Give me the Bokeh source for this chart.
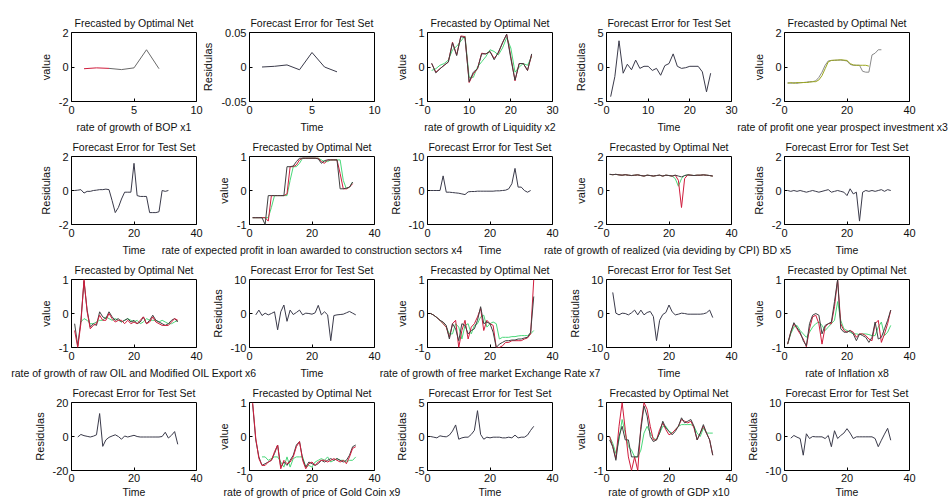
from bokeh.plotting import figure
from bokeh.layouts import row, column
from bokeh.models import FixedTicker, Range1d, CustomJSTickFormatter
from bokeh.embed import file_html
from bokeh.resources import INLINE

FONT = "Liberation Sans"

# ---------------- data ----------------
# x1 : rate of growth of BOP
x1_t_fc = [1, 2, 3]
x1_fc = [-0.1, -0.05, -0.08]
x1_t_act = [3, 4, 5, 6, 7]
x1_act = [-0.08, -0.15, -0.05, 1.0, -0.1]
x1_t_err = [1, 2, 3, 4, 5, 6, 7]
x1_err = [0.0, 0.001, 0.003, -0.004, 0.021, 0.0, -0.007]

# x2 : rate of growth of Liquidity
x2_t = list(range(1, 26))
x2_act = [0.11, -0.17, -0.05, 0.05, 0.14, 0.7, 0.33, 0.88, 0.85, -0.43, -0.15, -0.05, 0.38,
          0.38, 0.45, 0.21, 0.43, 0.7, 0.95, 0.24, -0.38, 0.1, 0.1, -0.1, 0.38]
x2_fc = [0.1, -0.15, -0.05, 0.05, 0.15, 0.72, 0.35, 0.9, 0.88, -0.45, -0.2, -0.05, 0.4,
         0.38, 0.45, 0.25, 0.4, 0.7, 0.95, 0.3, -0.4, 0.1, 0.1, -0.1, 0.35]
x2_gr = [-0.1, -0.05, 0.05, 0.1, 0.2, 0.5, 0.6, 0.75, 0.9, -0.3, -0.3, 0.0, 0.15,
         0.3, 0.5, 0.45, 0.35, 0.55, 0.85, 0.55, -0.15, 0.0, 0.1, 0.05, 0.3]
x2_err = [-4.3, -1.4, 3.8, -0.9, 0.4, -0.4, 1.0, -0.2, 0.1, 0.1, -0.5, -0.2, -1.2,
          0.2, 0.5, 1.9, 0.1, -0.2, -0.1, 0.1, 0.1, 0.1, -0.7, -3.6, -0.9]

# x3 : rate of profit one year prospect investment
x3_t = list(range(1, 32))
x3_act = [-0.9, -0.95, -0.9, -0.95, -0.9, -0.9, -0.88, -0.85, -0.85, -0.8, -0.6, -0.3, 0.1,
          0.35, 0.38, 0.38, 0.4, 0.4, 0.38, 0.35, 0.15, 0.1, 0.1, 0.1, -0.25, -0.3, -0.3,
          0.7, 0.8, 1.0, 1.0]
x3_t_ol = list(range(1, 28))
x3_ol = [-0.95, -0.9, -0.95, -0.9, -0.92, -0.9, -0.9, -0.88, -0.85, -0.85, -0.75, -0.5,
         -0.1, 0.3, 0.38, 0.4, 0.4, 0.42, 0.4, 0.38, 0.2, 0.12, 0.1, 0.1, 0.1, 0.1, 0.05]
x3_err = [0.0, 0.02, 0.05, -0.15, -0.05, -0.05, 0.0, 0.02, 0.05, 0.05, 0.08, 0.05, -0.6,
          -1.3, -1.0, -0.5, -0.1, -0.1, -0.1, 1.6, -0.3, -0.35, -0.35, -0.35, -1.3, -1.3,
          -1.3, -1.25, 0.0, -0.05, 0.0]

# x4 : rate of expected profit in loan awarded to construction sectors
x4_t = list(range(1, 34))
x4_act = [-0.8, -0.8, -0.8, -0.8, -1.0, -0.15, -0.15, -0.15, -0.15, -0.15, -0.15, 0.7, 0.7,
          0.72, 0.85, 0.95, 0.95, 0.95, 0.95, 0.95, 0.95, 0.93, 0.8, 0.88, 0.9, 0.9, 0.9,
          0.9, 0.05, 0.05, 0.07, 0.1, 0.25]
x4_fc = [-0.8, -0.8, -0.8, -0.8, -0.8, -0.9, -0.15, -0.15, -0.15, -0.15, -0.15, -0.1, 0.7,
         0.7, 0.75, 0.9, 0.95, 0.95, 0.95, 0.95, 0.95, 0.95, 0.85, 0.8, 0.9, 0.9, 0.9, 0.9,
         0.5, 0.05, 0.05, 0.1, 0.2]
x4_gr = [-0.8, -0.8, -0.8, -0.8, -0.8, -0.8, -0.5, -0.15, -0.15, -0.15, -0.15, -0.15, 0.3,
         0.7, 0.7, 0.8, 0.95, 0.95, 0.95, 0.95, 0.95, 0.95, 0.9, 0.85, 0.85, 0.9, 0.9, 0.9,
         0.9, 0.3, 0.05, 0.1, 0.25]
x4_err = [0.0, 0.0, 0.0, 0.0, 4.3, -0.5, -0.5, -0.6, -0.7, -0.8, -1.0, -1.2, -0.4, -0.3,
          -0.3, -0.2, -0.2, -0.2, -0.2, -0.2, -0.2, -0.1, -0.1, 0.0, 0.1, 0.5, 2.0, 6.5,
          1.0, 1.0, 0.0, -0.5, 0.0]

# x5 : rate of growth of realized (via deviding by CPI) BD
x5_t = list(range(1, 35))
x5_act = [0.95, 0.93, 0.95, 0.92, 0.9, 0.93, 0.9, 0.88, 0.9, 0.92, 0.88, 0.85, 0.9, 0.88,
          0.85, 0.88, 0.9, 0.85, 0.9, 0.88, 0.85, 0.9, 0.85, 0.8, 0.88, 0.92, 0.9, 0.88,
          0.9, 0.9, 0.92, 0.9, 0.88, 0.85]
x5_fc = [0.95, 0.93, 0.95, 0.92, 0.9, 0.93, 0.9, 0.88, 0.9, 0.92, 0.88, 0.85, 0.9, 0.88,
         0.85, 0.88, 0.9, 0.85, 0.9, 0.88, 0.85, 0.9, 0.6, -1.0, 0.7, 0.92, 0.9, 0.88,
         0.9, 0.9, 0.92, 0.9, 0.88, 0.85]
x5_gr = [0.95, 0.93, 0.95, 0.92, 0.9, 0.93, 0.9, 0.88, 0.9, 0.92, 0.88, 0.85, 0.9, 0.88,
         0.85, 0.88, 0.9, 0.85, 0.9, 0.88, 0.85, 0.7, 0.25, 0.7, 0.88, 0.92, 0.9, 0.88,
         0.9, 0.9, 0.92, 0.9, 0.88, 0.85]
x5_err = [0.0, -0.05, 0.0, -0.05, 0.0, -0.05, -0.1, -0.05, 0.0, -0.05, -0.1, -0.05, 0.0,
          0.05, -0.1, -0.05, 0.0, -0.05, -0.1, -0.3, 0.1, -0.2, -0.1, -1.8, -0.1, 0.0,
          -0.05, 0.0, -0.05, 0.0, 0.05, -0.05, 0.05, 0.0]

# x6 : rate of growth of raw OIL and Modified OIL Export
x6_t = list(range(1, 35))
x6_act = [-0.3, -0.95, -0.2, 0.95, 0.1, -0.4, -0.3, -0.35, 0.05, -0.1, -0.15, 0.05, -0.1,
          -0.2, -0.15, -0.25, -0.2, -0.15, -0.25, -0.2, -0.3, -0.25, -0.1, -0.3, -0.2,
          -0.05, -0.2, -0.25, -0.3, -0.35, -0.3, -0.2, -0.15, -0.25]
x6_fc = [-0.5, -1.0, -0.3, 1.0, 0.05, -0.45, -0.35, -0.3, -0.05, -0.2, -0.2, 0.0, -0.15,
         -0.25, -0.2, -0.2, -0.3, -0.2, -0.3, -0.25, -0.3, -0.2, -0.1, -0.3, -0.25, -0.1,
         -0.25, -0.3, -0.35, -0.35, -0.35, -0.25, -0.15, -0.2]
x6_t_gr = list(range(3, 35))
x6_gr = [-0.25, -0.15, -0.2, -0.3, -0.3, -0.25, -0.2, -0.2, -0.1, -0.15, -0.2, -0.15, -0.2,
         -0.25, -0.2, -0.15, -0.2, -0.25, -0.2, -0.3, -0.25, -0.15, -0.2, -0.2, -0.2, -0.25,
         -0.2, -0.25, -0.3, -0.3, -0.25, -0.2]
x6_t_err = list(range(2, 35))
x6_err = [-0.4, 1.0, -0.6, 0.1, -0.4, 0.0, 0.5, -4.8, 0.5, 2.5, -2.3, 1.0, -0.3, 0.3, 1.0,
          -0.4, 0.1, 0.0, -0.2, 0.2, 2.4, -0.4, 0.5, -0.4, -8.0, -0.6, -0.4, -0.3, -0.2,
          0.2, 0.6, 0.1, -0.4]

# x7 : rate of growth of free market Exchange Rate
x7_t = list(range(1, 35))
x7_act = [0.0, -0.05, -0.12, -0.2, -0.25, -0.35, -0.75, -0.3, -0.45, -0.8, -0.3, -0.35,
          -0.6, -0.5, -0.45, -0.2, 0.2, -0.3, -0.25, -0.3, -0.55, -1.0, -0.9, -0.85, -0.8,
          -0.8, -0.78, -0.78, -0.75, -0.75, -0.72, -0.7, -0.55, 0.5]
x7_fc = [0.0, -0.05, -0.12, -0.2, -0.3, -0.4, -0.7, -0.3, -0.2, -1.0, -0.5, -0.2, -0.75,
         -0.4, -0.3, -0.1, 0.15, -0.5, -0.2, -0.3, -0.35, -1.0, -1.0, -0.95, -0.85, -0.85,
         -0.8, -0.8, -0.8, -0.8, -0.75, -0.72, -0.6, 1.0]
x7_gr = [0.0, -0.05, -0.12, -0.2, -0.3, -0.4, -0.6, -0.6, -0.3, -0.4, -0.75, -0.35, -0.3,
         -0.6, -0.35, -0.3, -0.1, -0.05, -0.4, -0.3, -0.25, -0.3, -0.75, -0.7, -0.7, -0.7,
         -0.68, -0.68, -0.66, -0.65, -0.65, -0.65, -0.6, -0.5]
x7_t_err = list(range(2, 35))
x7_err = [6.2, 0.1, -0.4, 0.1, 0.0, -0.4, 0.2, 1.0, -0.4, 1.0, -0.4, 0.3, 0.6, -0.9, -8.0,
          -2.0, -0.3, 0.3, 2.5, 0.5, -0.4, -0.2, 0.1, 0.0, -0.2, -0.2, -0.2, -0.2, -0.2,
          -0.1, 0.2, 1.0, -1.2]

# x8 : rate of Inflation
x8_t = list(range(1, 35))
x8_act = [-0.9, -0.55, -0.27, -0.42, -0.55, -0.8, -0.95, -0.3, -0.05, 0.0, -0.05, -0.6,
          -0.35, -0.3, -0.25, 0.35, 1.0, -0.45, -0.55, -0.55, -0.5, -0.6, -0.8, -0.6, -0.65,
          -0.7, -0.85, -0.7, -0.25, -0.75, -0.7, -0.45, -0.2, 0.1]
x8_fc = [-0.9, -0.55, -0.3, -0.45, -0.6, -0.75, -0.98, -0.45, -0.1, -0.05, -0.3, -0.9,
         -0.4, -0.3, -0.3, 0.2, 1.0, -0.3, -0.5, -0.55, -0.5, -0.55, -0.7, -0.6, -0.6,
         -0.65, -0.75, -0.8, -0.3, -0.2, -0.85, -0.6, -0.3, 0.1]
x8_gr = [-0.9, -0.6, -0.4, -0.35, -0.5, -0.6, -0.7, -0.55, -0.4, -0.3, -0.25, -0.35, -0.5,
         -0.4, -0.3, -0.2, 0.35, -0.2, -0.45, -0.5, -0.55, -0.6, -0.6, -0.62, -0.6, -0.6,
         -0.62, -0.65, -0.65, -0.4, -0.25, -0.65, -0.55, -0.35]
x8_t_err = list(range(2, 35))
x8_err = [-0.3, 1.2, 0.5, 0.1, -0.3, 0.2, 1.0, 13.5, -5.8, -2.0, -0.5, 0.3, 1.0, 0.0, -1.6,
          0.3, -0.3, 0.2, 0.7, 0.0, -0.3, -0.3, -0.3, -0.3, -0.3, -0.3, -0.3, 0.0, 2.5,
          -0.9, 0.7, 2.9, -4.6]

# x9 : rate of growth of price of Gold Coin
x9_t = list(range(1, 35))
x9_act = [0.95, -0.1, -0.6, -0.85, -0.8, -0.75, -0.7, -0.5, -0.25, -0.9, -0.75, -0.85, -0.7,
          -0.55, -0.25, -0.15, -0.65, -0.9, -0.75, -0.8, -0.85, -0.8, -0.7, -0.75, -0.7,
          -0.65, -0.7, -0.65, -0.7, -0.75, -0.7, -0.55, -0.3, -0.25]
x9_fc = [1.0, -0.05, -0.65, -0.85, -0.85, -0.75, -0.7, -0.45, -0.25, -0.95, -0.7, -0.8,
         -0.75, -0.6, -0.3, -0.15, -0.7, -0.95, -0.8, -0.75, -0.85, -0.75, -0.7, -0.7, -0.75,
         -0.7, -0.65, -0.7, -0.75, -0.7, -0.8, -0.6, -0.35, -0.3]
x9_t_gr = list(range(4, 35))
x9_gr = [-0.6, -0.6, -0.7, -0.65, -0.6, -0.6, -0.75, -0.9, -0.6, -0.9, -0.65, -0.6, -0.6,
         -0.6, -0.9, -0.85, -0.9, -0.75, -0.7, -0.65, -0.7, -0.6, -0.75, -0.7, -0.65, -0.7,
         -0.7, -0.75, -0.7, -0.7, -0.6]
x9_err = [0.0, -0.1, -0.2, 0.1, 0.0, -0.05, 0.2, 0.8, 1.7, -0.4, -0.2, -0.1, -0.1, 0.3, 0.9,
          3.8, 0.3, -0.4, -0.1, -0.2, -0.1, -0.1, -0.1, -0.2, -0.2, -0.1, -0.2, 0.2, -0.2,
          -0.1, -0.1, 0.2, 0.9, 1.5]

# x10 : rate of growth of GDP
x10_t = list(range(1, 35))
x10_act = [-0.1, -0.3, -0.7, 0.0, 0.3, -0.1, -0.1, -0.6, -0.6, -0.6, 0.2, 0.9, 0.6, 0.0,
           -0.15, -0.1, 0.1, 0.45, 0.25, 0.15, 0.05, 0.15, 0.3, 0.55, 0.4, 0.45, 0.5, 0.3,
           -0.1, 0.1, 0.35, 0.1, -0.1, -0.55]
x10_fc = [0.0, -0.3, -0.65, 0.3, 1.0, 0.2, -0.6, -1.0, -0.6, -1.0, 0.3, 1.0, 0.8, 0.3,
          -0.1, -0.1, 0.2, 0.4, 0.2, 0.05, 0.1, 0.2, 0.3, 0.5, 0.45, 0.4, 0.45, 0.25, -0.1,
          0.1, 0.3, 0.1, -0.1, -0.55]
x10_gr = [0.0, -0.2, -0.5, -0.1, 0.5, 0.1, -0.3, -0.4, -0.6, -0.6, -0.4, 0.1, 0.3, 0.1,
          -0.05, -0.1, 0.1, 0.3, 0.3, 0.15, 0.1, 0.2, 0.3, 0.35, 0.35, 0.35, 0.35, 0.3, 0.1,
          0.0, 0.25, 0.1, 0.1, 0.1]
x10_t_err = list(range(2, 35))
x10_err = [-0.5, 0.3, -0.2, -0.6, -5.5, 0.8, -0.6, 0.0, -0.1, -0.1, -0.1, -0.6, 0.3, -3.0,
           1.7, -0.6, 0.3, 1.0, 2.3, 1.0, -0.6, -0.1, -0.1, -0.1, -0.1, -0.1, -0.1, -0.6,
           -3.0, -1.1, 0.7, 2.4, -1.1]

# axis limits / labels per variable
x_ranges = {1: (0, 10), 2: (0, 30), 3: (0, 40), 4: (0, 40), 5: (0, 40),
            6: (0, 40), 7: (0, 40), 8: (0, 40), 9: (0, 40), 10: (0, 40)}
value_lims = {1: 2, 2: 1, 3: 2, 4: 1, 5: 2, 6: 1, 7: 1, 8: 1, 9: 1, 10: 1}
err_lims = {1: 0.05, 2: 5, 3: 2, 4: 10, 5: 2, 6: 10, 7: 10, 8: 20, 9: 5, 10: 10}
var_labels = {
    1: "rate of growth of BOP x1",
    2: "rate of growth of Liquidity x2",
    3: "rate of  profit one year prospect investment   x3",
    4: "rate of expected profit in loan awarded to construction sectors x4",
    5: "rate of growth of realized (via deviding  by CPI) BD x5",
    6: "rate of growth of raw OIL and Modified OIL Export x6",
    7: "rate of growth of free market Exchange Rate x7",
    8: "rate of Inflation x8",
    9: "rate of growth of price of Gold Coin x9",
    10: "rate of growth of GDP x10",
}

DARK = "#404040"
RED = "#d01c3c"
GREEN = "#4ad87a"
OLIVE = "#9aa61e"
RESID = "#3a3a4a"

value_series = {
    1: [(x1_t_act, x1_act, "#6a6a6a"), (x1_t_fc, x1_fc, RED)],
    2: [(x2_t, x2_gr, GREEN), (x2_t, x2_fc, RED), (x2_t, x2_act, DARK)],
    3: [(x3_t, x3_act, "#8a8a8a"), (x3_t_ol, x3_ol, OLIVE)],
    4: [(x4_t, x4_gr, GREEN), (x4_t, x4_fc, RED), (x4_t, x4_act, DARK)],
    5: [(x5_t, x5_gr, GREEN), (x5_t, x5_fc, RED), (x5_t, x5_act, DARK)],
    6: [(x6_t_gr, x6_gr, GREEN), (x6_t, x6_act, DARK), (x6_t, x6_fc, RED)],
    7: [(x7_t, x7_gr, GREEN), (x7_t, x7_fc, RED), (x7_t, x7_act, DARK)],
    8: [(x8_t, x8_gr, GREEN), (x8_t, x8_fc, RED), (x8_t, x8_act, DARK)],
    9: [(x9_t_gr, x9_gr, GREEN), (x9_t, x9_act, DARK), (x9_t, x9_fc, RED)],
    10: [(x10_t, x10_gr, GREEN), (x10_t, x10_fc, RED), (x10_t, x10_act, DARK)],
}
err_series = {
    1: (x1_t_err, x1_err), 2: (x2_t, x2_err), 3: (x3_t, x3_err), 4: (x4_t, x4_err),
    5: (x5_t, x5_err), 6: (x6_t_err, x6_err), 7: (x7_t_err, x7_err),
    8: (x8_t_err, x8_err), 9: (x9_t, x9_err), 10: (x10_t_err, x10_err),
}

grid_layout = [
    [("value", 1), ("err", 1), ("value", 2), ("err", 2), ("value", 3)],
    [("err", 3), ("value", 4), ("err", 4), ("value", 5), ("err", 5)],
    [("value", 6), ("err", 6), ("value", 7), ("err", 7), ("value", 8)],
    [("err", 8), ("value", 9), ("err", 9), ("value", 10), ("err", 10)],
]

# ---------------- layout constants ----------------
FRAME_W = 125
FRAME_H = 70
LEFT = [71, 100, 100, 100, 100]
RIGHT = [100, 100, 100, 100, 41]
TOP = [32, 20, 20, 20]
BOTTOM = [33, 33, 33, 29]
SHIFT = [0, -147, -147, -146, -147]

fmt = CustomJSTickFormatter(code="return String(tick);")


def style_axis(ax):
    ax.axis_line_color = None
    ax.major_tick_in = 3
    ax.major_tick_out = 0
    ax.minor_tick_line_color = None
    ax.major_tick_line_color = "black"
    ax.major_label_text_font = FONT
    ax.major_label_text_font_size = "11px"
    ax.major_label_text_color = "#111111"
    ax.axis_label_text_font = FONT
    ax.axis_label_text_font_style = "normal"
    ax.axis_label_text_color = "#111111"


def make_fig(kind, var, r, c):
    xr = x_ranges[var]
    lim = value_lims[var] if kind == "value" else err_lims[var]
    p = figure(width=LEFT[c] + FRAME_W + RIGHT[c], height=TOP[r] + FRAME_H + BOTTOM[r],
               x_range=Range1d(*xr), y_range=Range1d(-lim, lim),
               output_backend="svg", toolbar_location=None,
               min_border_left=LEFT[c], min_border_right=RIGHT[c],
               min_border_top=TOP[r], min_border_bottom=BOTTOM[r])
    p.margin = (0, 0, 0, SHIFT[c])
    p.border_fill_alpha = 0
    p.background_fill_color = "white"
    p.outline_line_color = "black"
    p.outline_line_width = 1
    p.xgrid.visible = False
    p.ygrid.visible = False

    p.title.text = "Frecasted by Optimal Net" if kind == "value" else "Forecast Error for Test Set"
    p.title.text_font = FONT
    p.title.text_font_size = "10.5px"
    p.title.text_font_style = "normal"
    p.title.text_color = "#111111"
    p.title.align = "center"
    p.title.standoff = 7

    step = 5 if xr[1] == 10 else (10 if xr[1] == 30 else 20)
    xt = list(range(xr[0], xr[1] + 1, step))
    yt = [-lim, 0, lim]
    p.xaxis.ticker = FixedTicker(ticks=xt)
    p.yaxis.ticker = FixedTicker(ticks=yt)
    p.xaxis.formatter = fmt
    p.yaxis.formatter = fmt
    p.xaxis.axis_label = var_labels[var] if kind == "value" else "Time"
    p.yaxis.axis_label = "value" if kind == "value" else "Residulas"
    style_axis(p.xaxis[0])
    style_axis(p.yaxis[0])
    p.xaxis.axis_label_text_font_size = "10.5px"
    p.yaxis.axis_label_text_font_size = "11px"
    p.xaxis.major_label_standoff = 4 if r < 3 else 3
    p.xaxis.axis_label_standoff = 4 if r < 3 else 1
    p.yaxis.major_label_standoff = 3
    p.yaxis.axis_label_standoff = 4

    if kind == "value":
        for t, v, col in value_series[var]:
            p.line(t, v, line_color=col, line_width=1)
    else:
        t, v = err_series[var]
        p.line(t, v, line_color=RESID, line_width=1)
    return p


rows = []
for r, specs in enumerate(grid_layout):
    figs = [make_fig(kind, var, r, c) for c, (kind, var) in enumerate(specs)]
    rows.append(row(*figs))
layout = column(*rows)

open("out.html", "w").write(file_html(layout, INLINE))
